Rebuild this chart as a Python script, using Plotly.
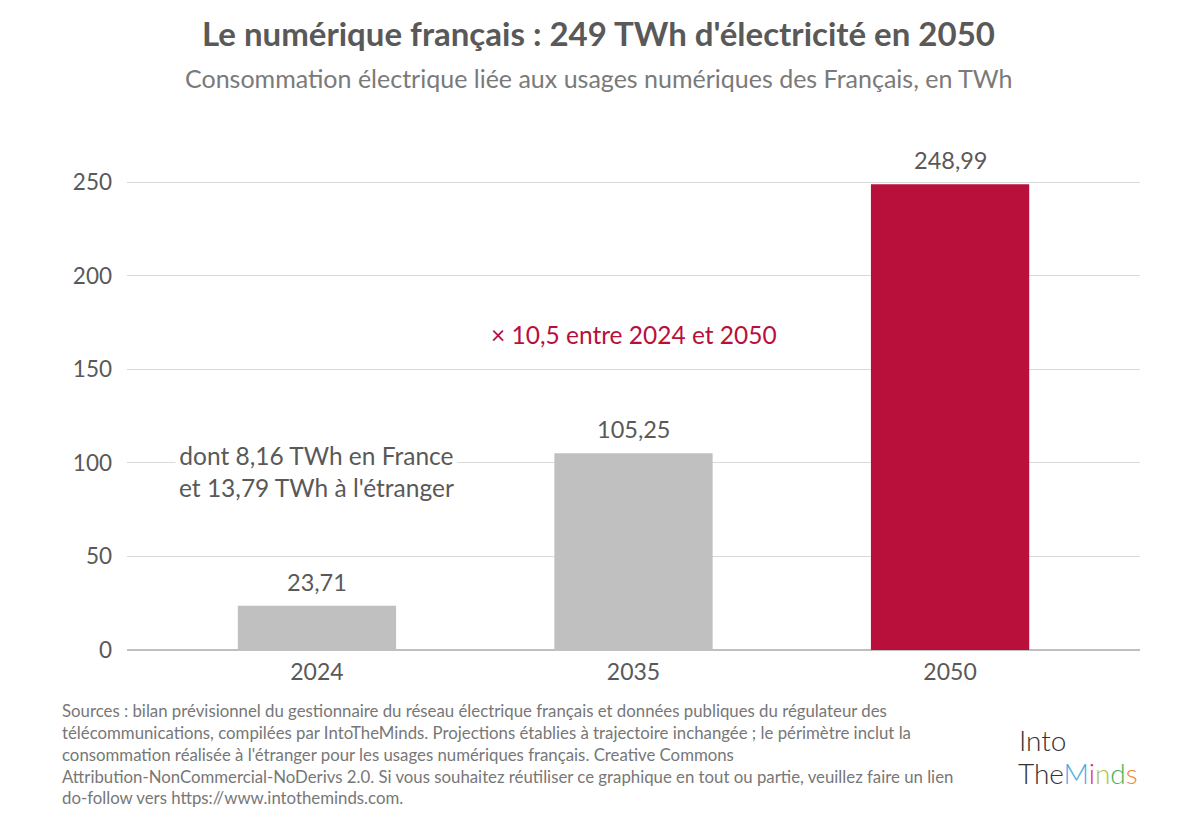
import plotly.graph_objects as go

annees = ["2024", "2035", "2050"]
conso_twh = [23.71, 105.25, 248.99]
etiquettes = ["23,71", "105,25", "248,99"]
couleurs = ["#c0c0c0", "#c0c0c0", "#b8103b"]

titre = "<b>Le numérique français : 249 TWh d'électricité en 2050</b>"
sous_titre = "Consommation électrique liée aux usages numériques des Français, en TWh"
sources = ("Sources : bilan prévisionnel du gestionnaire du réseau électrique français et données publiques du régulateur des<br>"
           "télécommunications, compilées par IntoTheMinds. Projections établies à trajectoire inchangée ; le périmètre inclut la<br>"
           "consommation réalisée à l'étranger pour les usages numériques français. Creative Commons<br>"
           "Attribution-NonCommercial-NoDerivs 2.0. Si vous souhaitez réutiliser ce graphique en tout ou partie, veuillez faire un lien<br>"
           "do-follow vers https://www.intotheminds.com.")

gris = "#595959"

fig = go.Figure()
fig.add_trace(go.Bar(
    x=annees, y=conso_twh,
    marker=dict(color=couleurs, line=dict(width=0)),
    width=0.5,
    hoverinfo="x+y",
))

# étiquettes des barres, un peu au-dessus (x = index de catégorie)
for i, (v, t) in enumerate(zip(conso_twh, etiquettes)):
    fig.add_annotation(x=i, y=v, text=t, showarrow=False, yanchor="bottom", yshift=8,
                       font=dict(size=23.5, color=gris, family="Lato"))

fig.add_annotation(x=1, y=168.5, text="× 10,5 entre 2024 et 2050", showarrow=False,
                   font=dict(size=24.5, color="#b8103b", family="Lato"))
fig.add_annotation(x=0, y=95.7, text="dont 8,16 TWh en France<br>et 13,79 TWh à l'étranger",
                   showarrow=False, bgcolor="white", borderpad=3,
                   font=dict(size=24.5, color=gris, family="Lato"))

# titre et sous-titre
fig.add_annotation(xref="paper", yref="paper", x=0.5, y=1.222, xanchor="center", yanchor="middle",
                   text=titre, showarrow=False, xshift=-35,
                   font=dict(size=33, color=gris, family="Lato"))
fig.add_annotation(xref="paper", yref="paper", x=0.5, y=1.133, xanchor="center", yanchor="middle",
                   text=sous_titre, showarrow=False, xshift=-35,
                   font=dict(size=25, color="#7a7a7a", family="Lato"))

# sources
fig.add_annotation(xref="paper", yref="paper", x=-0.066, y=-0.095, xanchor="left", yanchor="top",
                   text=sources, showarrow=False, align="left",
                   font=dict(size=16.8, color="#777777", family="Lato"))

# logo approximatif en texte
fig.add_annotation(xref="paper", yref="paper", x=1.0, y=-0.178, xanchor="right", yanchor="middle",
                   text="Into", showarrow=False, xshift=-72,
                   font=dict(size=28, color="#333333", family="Lato", weight=300))
fig.add_annotation(xref="paper", yref="paper", x=1.0, y=-0.244, xanchor="right", yanchor="middle",
                   text=("The<span style='color:#4aaee0'>M</span><span style='color:#e0307a'>i</span>"
                         "<span style='color:#a8c83a'>n</span><span style='color:#4cb050'>d</span>"
                         "<span style='color:#f08a30'>s</span>"),
                   showarrow=False,
                   font=dict(size=28, color="#333333", family="Lato", weight=300))

fig.update_layout(
    width=1200, height=828,
    paper_bgcolor="white", plot_bgcolor="white",
    font=dict(family="Lato", color=gris),
    margin=dict(l=119, r=68, t=137, b=186),
    showlegend=False,
    xaxis=dict(type="category", range=[-0.6, 2.6], showgrid=False, showline=False, ticks="",
               ticklabelstandoff=6,
               tickfont=dict(size=23, color=gris)),
    yaxis=dict(range=[0, 270], dtick=50, showgrid=True, gridcolor="#d9d9d9", gridwidth=1.3,
               zeroline=True, zerolinecolor="#bfbfbf", zerolinewidth=1.5,
               ticks="", ticklabelstandoff=14,
               tickfont=dict(size=22.5, color=gris)),
)

fig.write_html("out.html")
